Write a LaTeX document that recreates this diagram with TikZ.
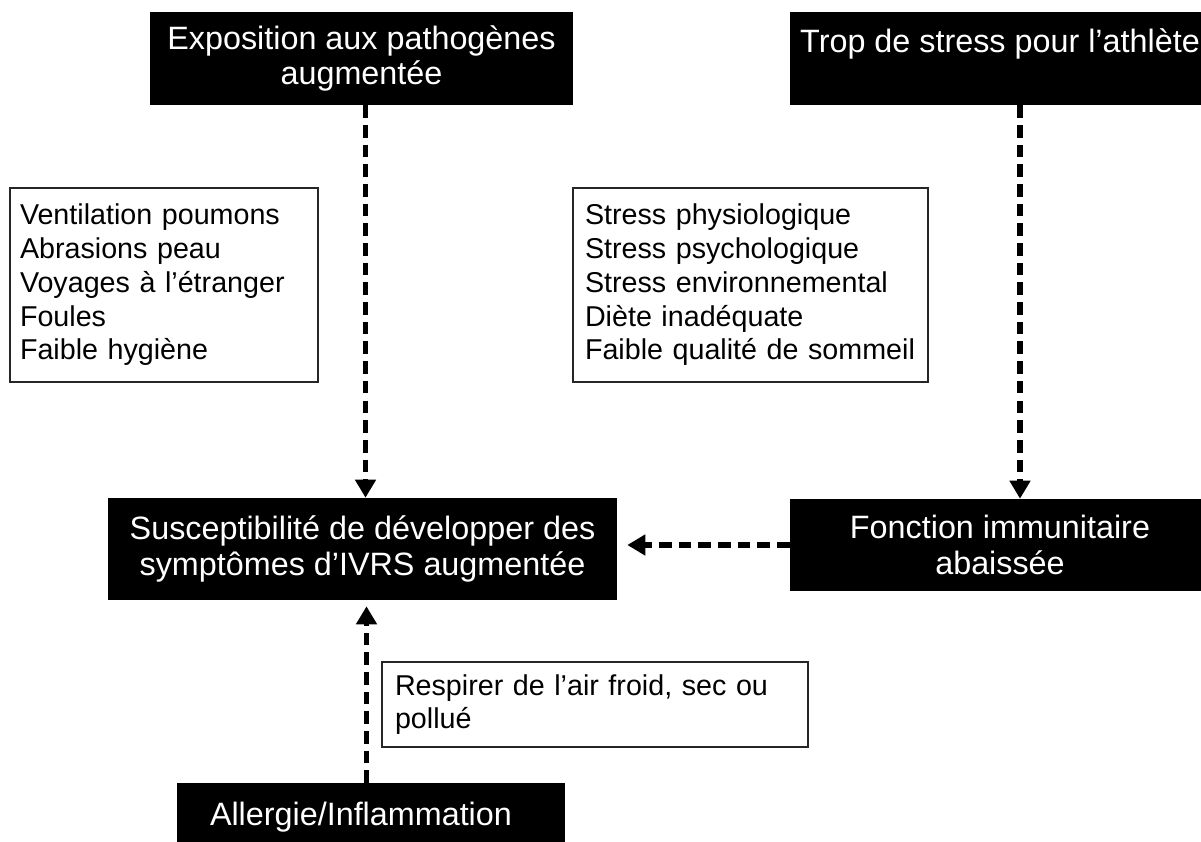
\documentclass[tikz,border=0pt]{standalone}
\usepackage{fontspec}
\setmainfont{Liberation Sans}
\usetikzlibrary{arrows.meta}

\tikzset{
  cajanegra/.style={fill=black, text=white, align=center, inner sep=0pt,
    font=\fontsize{23}{25.5}\selectfont},
  cajalista/.style={draw=black!85, line width=0.8pt, fill=white, align=left,
    inner ysep=0pt, font=\fontsize{20.4}{24}\selectfont},
  flecha/.style={line width=4.2pt, dash pattern=on 9pt off 5pt,
    -{Triangle[length=0.45cm, width=0.5cm]}}
}

\begin{document}
\begin{tikzpicture}
            % Marco de la figura
            \useasboundingbox (0,0) rectangle (30.025,-21.05);

            % Causas principales (cajas negras)
            \node[cajanegra, minimum width=10.575cm, minimum height=2.325cm] (expo) at (9.0375,-1.4625) {Exposition aux pathogènes\\augmentée};
            \node[cajanegra, minimum width=10.5cm, minimum height=2.325cm] (stress) at (25,-1.4625) {Trop de stress pour l’athlète\\\mbox{}};

            % Listas de factores
            \node[cajalista, minimum width=7.7cm, minimum height=4.85cm, text width=7.2cm, inner xsep=0.25cm] (factexpo) at (4.1,-7.125)
              {Ventilation poumons\\Abrasions peau\\Voyages à l’étranger\\Foules\\Faible hygiène};
            \node[cajalista, minimum width=8.875cm, minimum height=4.85cm, text width=8.275cm, inner xsep=0.3cm] (factstress) at (18.7625,-7.125)
              {Stress physiologique\\Stress psychologique\\Stress environnemental\\Diète inadéquate\\Faible qualité de sommeil};

            % Resultado y fonction immunitaire
            \node[cajanegra, minimum width=12.725cm, minimum height=2.55cm] (suscept) at (9.0625,-13.725) {Susceptibilité de développer des\\symptômes d’IVRS augmentée};
            \node[cajanegra, minimum width=10.5cm, minimum height=2.3cm] (immun) at (25,-13.625) {Fonction immunitaire\\abaissée};

            % Parte inferior
            \node[cajalista, minimum width=10.65cm, minimum height=2.125cm, text width=10cm, inner xsep=0.325cm] (air) at (14.875,-17.6125)
              {Respirer de l’air froid, sec ou\\pollué};
            \node[cajanegra, anchor=north, align=left, minimum width=9.7cm, minimum height=2.4cm, text width=8.05cm, inner xsep=0.825cm] (allergie) at (9.275,-19.575)
              {Allergie/Inflammation\\\mbox{}};

            % Flechas discontinuas
            \draw[flecha] ([xshift=1mm]expo.south) -- ([xshift=1mm]expo.south |- suscept.north);
            \draw[flecha] ([xshift=5mm]stress.south) -- ([xshift=5mm]stress.south |- immun.north);
            \draw[flecha, shorten >=0.25cm] (immun.west) -- (immun.west -| suscept.east);
            \draw[flecha, shorten >=0.15cm] ([xshift=1mm]allergie.north -| suscept.south) -- ([xshift=1mm]suscept.south);
\end{tikzpicture}
\end{document}
